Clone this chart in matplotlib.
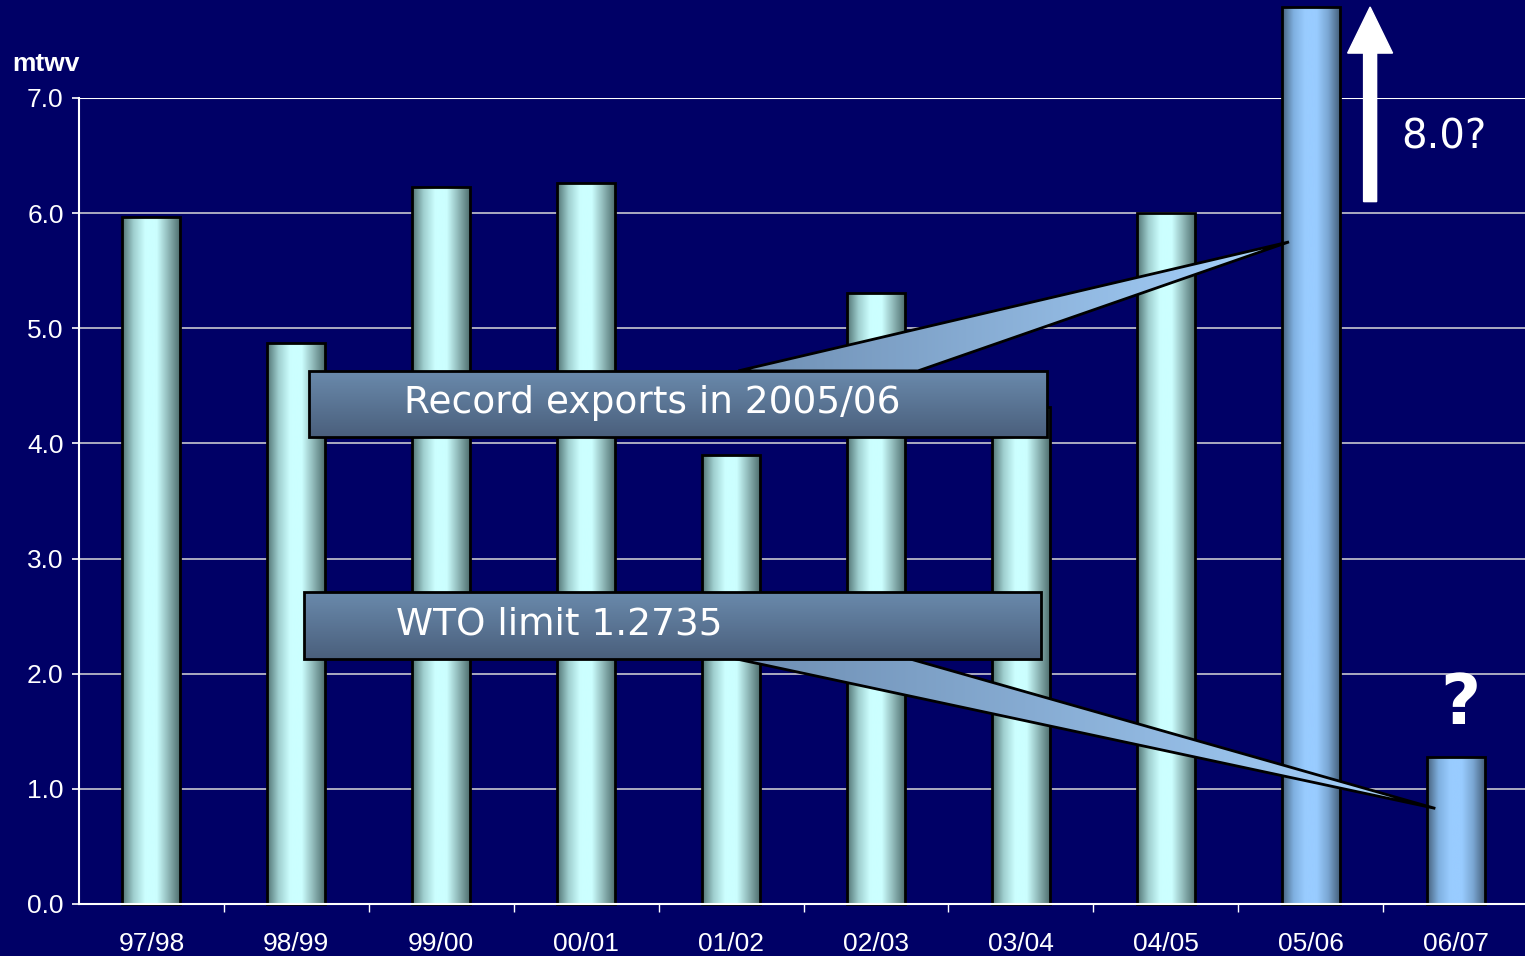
import numpy as np
import matplotlib
matplotlib.use('Agg')
import matplotlib.pyplot as plt
from matplotlib.patches import Rectangle, Polygon, FancyArrow
from matplotlib.colors import LinearSegmentedColormap

# ── data ────────────────────────────────────────────────────────────────────
seasons = ['97/98', '98/99', '99/00', '00/01', '01/02',
           '02/03', '03/04', '04/05', '05/06', '06/07']
exports = [5.97, 4.87, 6.23, 6.26, 3.90, 5.31, 4.32, 6.00, 7.79, 1.2735]
highlight = ['05/06', '06/07']
yticks = [0.0, 1.0, 2.0, 3.0, 4.0, 5.0, 6.0, 7.0]

BG = '#000066'
teal_cm = LinearSegmentedColormap.from_list(
    'teal', ['#507272', '#9fcfcf', '#ccffff', '#ccffff', '#8fb8b8', '#4f6f6f'])
blue_cm = LinearSegmentedColormap.from_list(
    'blue', ['#46607c', '#7fb0e0', '#99ccff', '#99ccff', '#7aa6d2', '#45607c'])
box_cm = LinearSegmentedColormap.from_list('box', ['#4a5f7c', '#6a8aac'])
tail_cm = LinearSegmentedColormap.from_list('tail', ['#6e8eb2', '#a8d4ff'])

fig = plt.figure(figsize=(15.25, 9.56), dpi=100, facecolor=BG)
ax = fig.add_axes([0.0518, 0.0544, 0.9502, 0.8431], facecolor=BG)
ax.set_xlim(-0.5, len(seasons) - 0.5)
ax.set_ylim(0, 7)


def grad_fill(patch, cmap, horizontal=True, z=2):
    if isinstance(patch, Rectangle):
        x0, y0 = patch.get_xy()
        x1, y1 = x0 + patch.get_width(), y0 + patch.get_height()
    else:
        x0, y0 = patch.get_xy().min(axis=0)
        x1, y1 = patch.get_xy().max(axis=0)
    g = np.linspace(0, 1, 256)
    img = g[None, :] if horizontal else g[:, None]
    im = ax.imshow(img, cmap=cmap, extent=[x0, x1, y0, y1], origin='lower',
                   aspect='auto', zorder=z, interpolation='bicubic')
    ax.add_patch(patch)
    im.set_clip_path(patch)


# gridlines
for y in yticks[1:-1]:
    ax.axhline(y, color='#b8b8c8', lw=1.3, zorder=0)
ax.axhline(7.0, color='white', lw=1.5, zorder=0)

# bars
w = 0.4
for i, (s, v) in enumerate(zip(seasons, exports)):
    cm = blue_cm if s in highlight else teal_cm
    r = Rectangle((i - w / 2, 0), w, v, facecolor='none', edgecolor='black',
                  lw=2, zorder=2.5, clip_on=False)
    grad_fill(r, cm, horizontal=True, z=2)

# callout 1: record exports
tail1 = Polygon([(4.05, 4.63), (5.29, 4.63), (7.85, 5.75)], closed=True,
                facecolor='none', edgecolor='black', lw=2, zorder=3.5)
grad_fill(tail1, tail_cm, horizontal=True, z=3)
box1 = Rectangle((1.09, 4.06), 5.09, 0.57, facecolor='none', edgecolor='black',
                 lw=2, zorder=4.5)
grad_fill(box1, box_cm, horizontal=False, z=4)
ax.text(1.74, 4.35, 'Record exports in 2005/06', color='white', fontsize=27,
        family='DejaVu Sans', va='center', ha='left', zorder=6)

# callout 2: WTO limit
tail2 = Polygon([(4.03, 2.13), (5.23, 2.13), (8.86, 0.83)], closed=True,
                facecolor='none', edgecolor='black', lw=2, zorder=3.5)
grad_fill(tail2, tail_cm, horizontal=True, z=3)
box2 = Rectangle((1.05, 2.13), 5.09, 0.58, facecolor='none', edgecolor='black',
                 lw=2, zorder=4.5)
grad_fill(box2, box_cm, horizontal=False, z=4)
ax.text(1.69, 2.43, 'WTO limit 1.2735', color='white', fontsize=27,
        family='DejaVu Sans', va='center', ha='left', zorder=6)

# up arrow + labels
arr = FancyArrow(8.41, 6.10, 0, 1.69, width=0.09, head_width=0.31,
                 head_length=0.40, length_includes_head=True,
                 color='white', zorder=5, clip_on=False)
ax.add_patch(arr)
ax.text(8.92, 6.66, '8.0?', color='white', fontsize=29, family='DejaVu Sans',
        ha='center', va='center', zorder=6)
ax.text(9.03, 1.73, '?', color='white', fontsize=50, fontweight='bold',
        family='DejaVu Sans', ha='center', va='center', zorder=6)

# axes styling
for sp in ['top', 'right']:
    ax.spines[sp].set_visible(False)
for sp in ['left', 'bottom']:
    ax.spines[sp].set_color('white')
    ax.spines[sp].set_linewidth(1.5)
ax.spines['bottom'].set_zorder(5)

ax.set_yticks(yticks)
ax.set_yticklabels([f'{t:.1f}' for t in yticks])
ax.tick_params(axis='y', colors='white', labelsize=19, length=5, width=1.2, pad=6)
ax.set_xticks(range(len(seasons)))
ax.set_xticklabels(seasons)
ax.tick_params(axis='x', which='major', colors='white', labelsize=19,
               length=0, pad=20)
ax.set_xticks(np.arange(0.5, len(seasons) - 1, 1.0), minor=True)
ax.tick_params(axis='x', which='minor', colors='white', length=6, width=1)
for lab in ax.get_xticklabels() + ax.get_yticklabels():
    lab.set_family('Liberation Sans')

fig.text(0.008, 0.933, 'mtwv', color='white', fontsize=19, fontweight='bold',
         family='Liberation Sans', ha='left', va='center')

fig.savefig('out.png', dpi=100, facecolor=BG)
